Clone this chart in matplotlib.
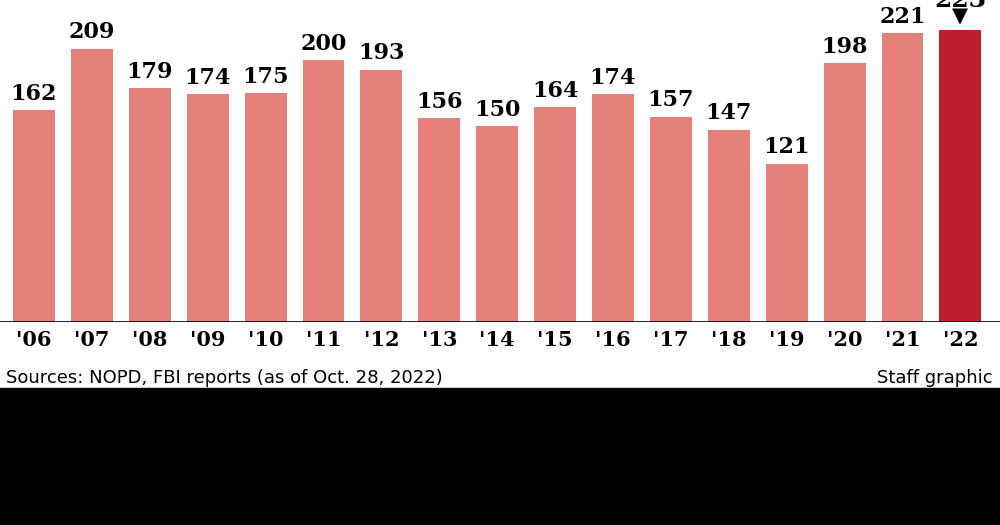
import matplotlib.pyplot as plt
from matplotlib.patches import Rectangle

years = ["'06", "'07", "'08", "'09", "'10", "'11", "'12", "'13", "'14",
         "'15", "'16", "'17", "'18", "'19", "'20", "'21", "'22"]
values = [162, 209, 179, 174, 175, 200, 193, 156, 150,
          164, 174, 157, 147, 121, 198, 221, 223]

LIGHT = "#e4807a"
DARK = "#bf1e2e"

fig = plt.figure(figsize=(10, 5.25), dpi=100)
fig.patches.append(Rectangle((0, 0), 1, 1 - 388 / 525, transform=fig.transFigure,
                             color="black", zorder=0))
ax = fig.add_axes([0, 1 - 322 / 525, 1, 322 / 525])
ax.set_facecolor("none")

xs = list(range(len(years)))
colors = [LIGHT] * (len(years) - 1) + [DARK]
ax.bar(xs, values, width=0.725, color=colors)
ax.set_xlim(-34 / 57.9, (1000 - 34) / 57.9)
ax.set_ylim(0, 322 / 1.308)
ax.axhline(0, color="black", lw=1.2)

for x, v in zip(xs[:-1], values[:-1]):
    ax.text(x, v + 4, str(v), ha="center", va="bottom", fontsize=16,
            fontweight="bold", family="DejaVu Serif")
# latest year label sits partly above the top edge, as in the source graphic
ax.text(xs[-1], 241, str(values[-1]), ha="center", va="baseline",
        fontsize=18, fontweight="bold", family="DejaVu Serif", clip_on=False)
ax.text(xs[-1], values[-1] + 3, "\u25bc", ha="center", va="bottom", fontsize=15,
        clip_on=False)

ax.set_xticks(xs)
ax.set_xticklabels(years, family="DejaVu Serif", fontsize=15, fontweight="bold")
ax.tick_params(axis="x", length=0, pad=6)
ax.set_yticks([])
for s in ax.spines.values():
    s.set_visible(False)

fig.text(0.006, 1 - 378 / 525, "Sources: NOPD, FBI reports (as of Oct. 28, 2022)",
         fontsize=13, va="center", family="DejaVu Sans")
fig.text(0.993, 1 - 378 / 525, "Staff graphic", fontsize=13, va="center", ha="right",
         family="DejaVu Sans")

fig.savefig("out.png", dpi=100)
